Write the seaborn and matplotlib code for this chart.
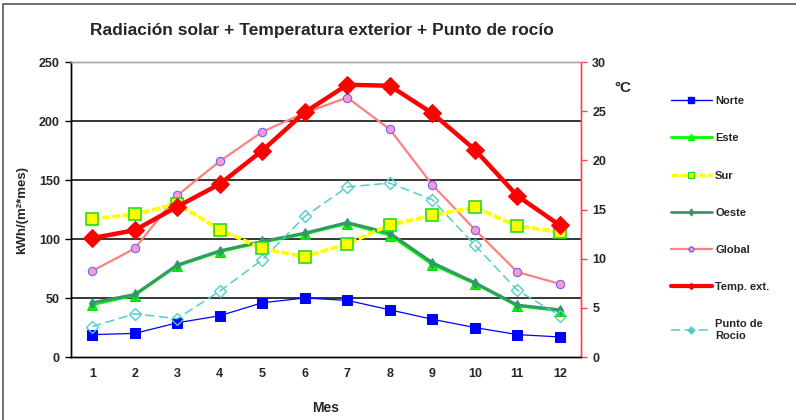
import matplotlib
matplotlib.use("Agg")
import matplotlib.pyplot as plt
import seaborn as sns
import pandas as pd
from matplotlib.lines import Line2D
from matplotlib.patches import Rectangle

months = [1, 2, 3, 4, 5, 6, 7, 8, 9, 10, 11, 12]
norte = [19, 20, 29, 35, 46, 50, 48, 40, 32, 25, 19, 17]
este = [44, 52, 77, 89, 97, 104, 113, 103, 78, 62, 43, 39]
sur = [117, 121, 130, 108, 92, 85, 96, 112, 120, 127, 111, 106]
oeste = [46, 53, 78, 90, 98, 105, 114, 105, 80, 63, 44, 40]
glob = [73, 92, 137, 166, 191, 207, 220, 193, 146, 108, 72, 62]
temp_ext = [12.1, 12.9, 15.3, 17.6, 21.0, 24.9, 27.7, 27.6, 24.8, 21.1, 16.4, 13.4]
rocio = [3.1, 4.4, 3.9, 6.7, 9.9, 14.3, 17.3, 17.7, 16.0, 11.4, 6.8, 4.2]

sns.set_style("white")
plt.rcParams['font.family'] = ['Liberation Sans', 'DejaVu Sans']
plt.rcParams['font.weight'] = 'bold'

fig = plt.figure(figsize=(7.96, 4.2), dpi=100)
fig.patches.append(Rectangle((0.004, -0.01), 1.2, 1.0, transform=fig.transFigure,
                             fill=False, edgecolor='#555555', linewidth=1.2))
ax = fig.add_axes([0.0892, 0.15, 0.6408, 0.702])
ax2 = ax.twinx()

def draw(a, y, **kw):
    sns.lineplot(x=months, y=y, ax=a, sort=False, legend=False, **kw)

draw(ax, glob, color='#FF8080', lw=1.6, marker='o', markersize=6,
     markerfacecolor='#FF99CC', markeredgecolor='#6666FF', markeredgewidth=0.8, zorder=3)
draw(ax, este, color='#00FF00', lw=1.5, marker='^', markersize=7,
     markerfacecolor='#00FF00', markeredgecolor='#00DD00', zorder=4)
draw(ax, oeste, color='#339966', lw=2.2, marker='d', markersize=5,
     markerfacecolor='#339966', markeredgecolor='#339966', zorder=5)
draw(ax, sur, color='#FFFF00', lw=2.8, linestyle=(0, (2, 0.6)), marker='s', markersize=9,
     markerfacecolor='#FFFF00', markeredgecolor='#22DD22', markeredgewidth=1.2, zorder=6)
draw(ax, norte, color='#0000FF', lw=0.9, marker='s', markersize=6.5,
     markerfacecolor='#0000FF', markeredgecolor='#0000FF', zorder=7)

draw(ax2, rocio, color='#55CCCC', lw=1.1, linestyle=(0, (6, 3)), marker='D', markersize=6,
     markerfacecolor='none', markeredgecolor='#55CCCC', markeredgewidth=1.0, zorder=3)
draw(ax2, temp_ext, color='#FF0000', lw=3.2, marker='D', markersize=9.5,
     markerfacecolor='#FF0000', markeredgecolor='#FF0000', zorder=5)

ax.set_xlim(0.5, 12.5)
ax.set_ylim(0, 250)
ax2.set_ylim(0, 30)
ax.set_yticks([0, 50, 100, 150, 200, 250])
ax2.set_yticks([0, 5, 10, 15, 20, 25, 30])
ax.set_xticks(months)
ax.set_xticklabels([str(m) for m in months], fontsize=9, fontweight='bold')
ax.set_xticks([m + 0.5 for m in range(0, 13)], minor=True)
ax.tick_params(axis='x', which='major', length=0, pad=8)
ax.tick_params(axis='x', which='minor', length=4, width=1, color='black', direction='out')
ax.tick_params(axis='y', length=4, width=1, color='black', direction='out', labelsize=9, pad=4)
ax2.tick_params(axis='y', length=4, width=1, color='#FF4444', direction='out', labelsize=9, pad=4)
for lbl in ax.get_yticklabels() + ax2.get_yticklabels():
    lbl.set_fontweight('bold')

for y in [50, 100, 150, 200]:
    ax.axhline(y, color='black', lw=1.1, zorder=1)

for a in (ax, ax2):
    a.spines['top'].set_color('#AAAAAA')
    a.spines['left'].set_color('black')
    a.spines['bottom'].set_color('black')
    a.spines['right'].set_color('#FF4444')
    for s in a.spines.values():
        s.set_linewidth(1.0)

ax.set_xlabel('Mes', fontsize=10, fontweight='bold', labelpad=15)
ax.set_ylabel('kWh/(m²*mes)', fontsize=9.5, fontweight='bold', labelpad=8)
ax2.set_ylabel('')
fig.text(0.404, 0.928, 'Radiación solar + Temperatura exterior + Punto de rocío',
         ha='center', va='center', fontsize=12.5, fontweight='bold')
fig.text(0.772, 0.79, '°C', ha='left', va='center', fontsize=11, fontweight='bold')

handles = [
    Line2D([], [], color='#0000FF', lw=1, marker='s', markersize=5,
           markerfacecolor='#0000FF', markeredgecolor='#0000FF'),
    Line2D([], [], color='#00FF00', lw=2, marker='^', markersize=4,
           markerfacecolor='#00FF00', markeredgecolor='#00FF00'),
    Line2D([], [], color='#FFFF00', lw=2.5, linestyle=(0, (2, 0.6)), marker='s', markersize=5,
           markerfacecolor='#FFFF00', markeredgecolor='#22DD22'),
    Line2D([], [], color='#339966', lw=2, marker='d', markersize=3.5,
           markerfacecolor='#339966', markeredgecolor='#339966'),
    Line2D([], [], color='#FF8080', lw=1.6, marker='o', markersize=3.5,
           markerfacecolor='#FF99CC', markeredgecolor='#6666FF'),
    Line2D([], [], color='#FF0000', lw=3, marker='D', markersize=3,
           markerfacecolor='#FF0000', markeredgecolor='#FF0000'),
    Line2D([], [], color='#55CCCC', lw=1.1, linestyle=(0, (6, 3)), marker='D', markersize=3.5,
           markerfacecolor='#55CCCC', markeredgecolor='#55CCCC'),
]
labels = ['Norte', 'Este', 'Sur', 'Oeste', 'Global', 'Temp. ext.', 'Punto de\nRocio']
fig.legend(handles, labels, loc='upper left', bbox_to_anchor=(0.83, 0.795),
           frameon=False, handlelength=3.7, handletextpad=0.3,
           labelspacing=2.45, prop={'weight': 'bold', 'size': 8})

fig.savefig('out.png', dpi=100)
